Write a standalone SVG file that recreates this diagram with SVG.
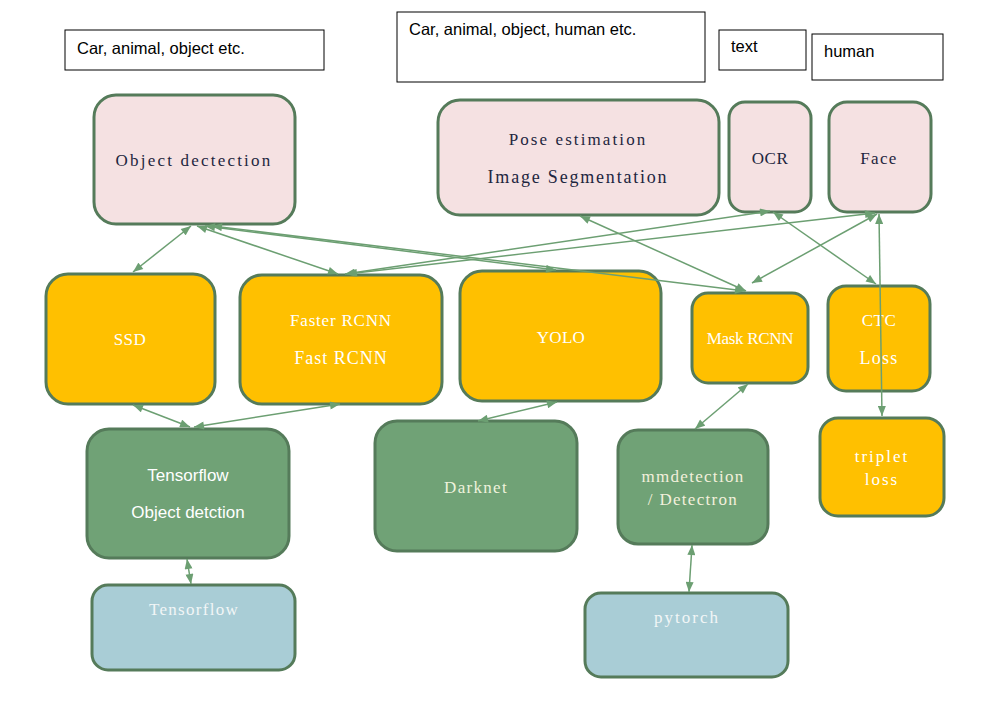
<svg xmlns="http://www.w3.org/2000/svg" width="992" height="701" viewBox="0 0 992 701">
<style>
.lbl{fill:#fff;stroke:#000;stroke-width:1}
.lt{font-family:"Liberation Sans",Arial,sans-serif;font-size:16.5px;fill:#000}
.n{stroke:#557b5a;stroke-width:3}
.pink{fill:#f5e1e2}
.orange{fill:#ffc000}
.green{fill:#70a276}
.blue{fill:#a9cdd6}
.mt{font-family:"Liberation Serif","Times New Roman",serif;font-size:17px;letter-spacing:1.3px;text-anchor:middle}
.dark{fill:#1e2640}
.wt{fill:#ffffff}
.st{font-family:"Liberation Sans",Arial,sans-serif;font-size:17px;text-anchor:middle;fill:#fff}
.c line{stroke:#6c9f72;stroke-width:1.5;marker-start:url(#ah);marker-end:url(#ah)}
</style>
<defs>
<marker id="ah" viewBox="0 0 10 8" refX="10" refY="4" markerWidth="11" markerHeight="8" markerUnits="userSpaceOnUse" orient="auto-start-reverse">
<path d="M0,0 L10,4 L0,8 z" fill="#6c9f72"/>
</marker>
</defs>
<rect width="992" height="701" fill="#fff"/>

<g id="label1"><rect class="lbl" x="65" y="30" width="259" height="40"/><text class="lt" x="77" y="54">Car, animal, object etc.</text></g>
<g id="label2"><rect class="lbl" x="397" y="12" width="308" height="70"/><text class="lt" x="409" y="35">Car, animal, object, human etc.</text></g>
<g id="label3"><rect class="lbl" x="719" y="30" width="87" height="40"/><text class="lt" x="731" y="52">text</text></g>
<g id="label4"><rect class="lbl" x="812" y="34" width="131" height="46"/><text class="lt" x="824" y="57">human</text></g>

<g id="objdet"><rect class="n pink" x="94" y="95" width="201" height="129" rx="22"/><text class="mt dark" x="194" y="166" style="letter-spacing:2.2px">Object dectection</text></g>
<g id="pose"><rect class="n pink" x="438" y="100" width="281" height="115" rx="22"/><text class="mt dark" x="578" y="145" style="letter-spacing:2.1px">Pose estimation</text><text class="mt dark" x="578" y="183" style="font-size:18px;letter-spacing:1.8px">Image Segmentation</text></g>
<g id="ocr"><rect class="n pink" x="729" y="102" width="82" height="110" rx="16"/><text class="mt dark" x="770" y="164" style="letter-spacing:0.5px">OCR</text></g>
<g id="face"><rect class="n pink" x="829" y="102" width="102" height="110" rx="18"/><text class="mt dark" x="879" y="164">Face</text></g>

<g id="ssd"><rect class="n orange" x="46" y="274" width="169" height="130" rx="22"/><text class="mt wt" x="130" y="345" style="letter-spacing:0.5px">SSD</text></g>
<g id="faster"><rect class="n orange" x="240" y="275" width="202" height="129" rx="22"/><text class="mt wt" x="341" y="326" style="letter-spacing:0.8px">Faster RCNN</text><text class="mt wt" x="341" y="364" style="font-size:18px;letter-spacing:1px">Fast RCNN</text></g>
<g id="yolo"><rect class="n orange" x="460" y="271" width="201" height="130" rx="22"/><text class="mt wt" x="561" y="343" style="letter-spacing:0.3px">YOLO</text></g>
<g id="mask"><rect class="n orange" x="692" y="293" width="116" height="90" rx="16"/><text class="mt wt" x="750" y="344" style="letter-spacing:-0.3px">Mask RCNN</text></g>
<g id="ctc"><rect class="n orange" x="828" y="286" width="102" height="105" rx="18"/><text class="mt wt" x="879" y="326" style="letter-spacing:0.5px">CTC</text><text class="mt wt" x="879" y="364" style="font-size:18px">Loss</text></g>
<g id="triplet"><rect class="n orange" x="820" y="418" width="124" height="98" rx="18"/><text class="mt wt" x="882" y="462" style="letter-spacing:2px">triplet</text><text class="mt wt" x="882" y="485" style="letter-spacing:2px">loss</text></g>

<g id="tfod"><rect class="n green" x="87" y="429" width="202" height="129" rx="22"/><text class="st" x="188" y="481">Tensorflow</text><text class="st" x="188" y="518">Object detction</text></g>
<g id="darknet"><rect class="n green" x="375" y="421" width="202" height="130" rx="22"/><text class="mt" x="476" y="493" style="fill:#eef2dc">Darknet</text></g>
<g id="mmdet"><rect class="n green" x="618" y="430" width="150" height="114" rx="20"/><text class="mt" x="693" y="482" style="fill:#f3f0dc">mmdetection</text><text class="mt" x="693" y="505" style="fill:#f3f0dc">/ Detectron</text></g>

<g id="tf"><rect class="n blue" x="92" y="585" width="203" height="85" rx="16"/><text class="mt" x="194" y="615" style="fill:#f2f6f6">Tensorflow</text></g>
<g id="pytorch"><rect class="n blue" x="585" y="593" width="203" height="84" rx="16"/><text class="mt" x="687" y="623" style="fill:#f2f6f6;letter-spacing:2px">pytorch</text></g>

<g class="c" id="connectors">
<line x1="191" y1="226" x2="133" y2="272"/>
<line x1="197" y1="226" x2="338" y2="274"/>
<line x1="205" y1="226" x2="556" y2="270"/>
<line x1="212" y1="226" x2="745" y2="291"/>
<line x1="345" y1="274" x2="770" y2="211"/>
<line x1="347" y1="274" x2="875" y2="213"/>
<line x1="580" y1="216" x2="746" y2="291"/>
<line x1="773" y1="212" x2="876" y2="284"/>
<line x1="877" y1="214" x2="752" y2="283"/>
<line x1="879" y1="214" x2="882" y2="416"/>
<line x1="133" y1="405" x2="190" y2="427"/>
<line x1="340" y1="404" x2="194" y2="427"/>
<line x1="557" y1="402" x2="478" y2="421"/>
<line x1="748" y1="384" x2="695" y2="429"/>
<line x1="187" y1="559" x2="191" y2="584"/>
<line x1="692" y1="545" x2="689" y2="592"/>
</g>
</svg>
